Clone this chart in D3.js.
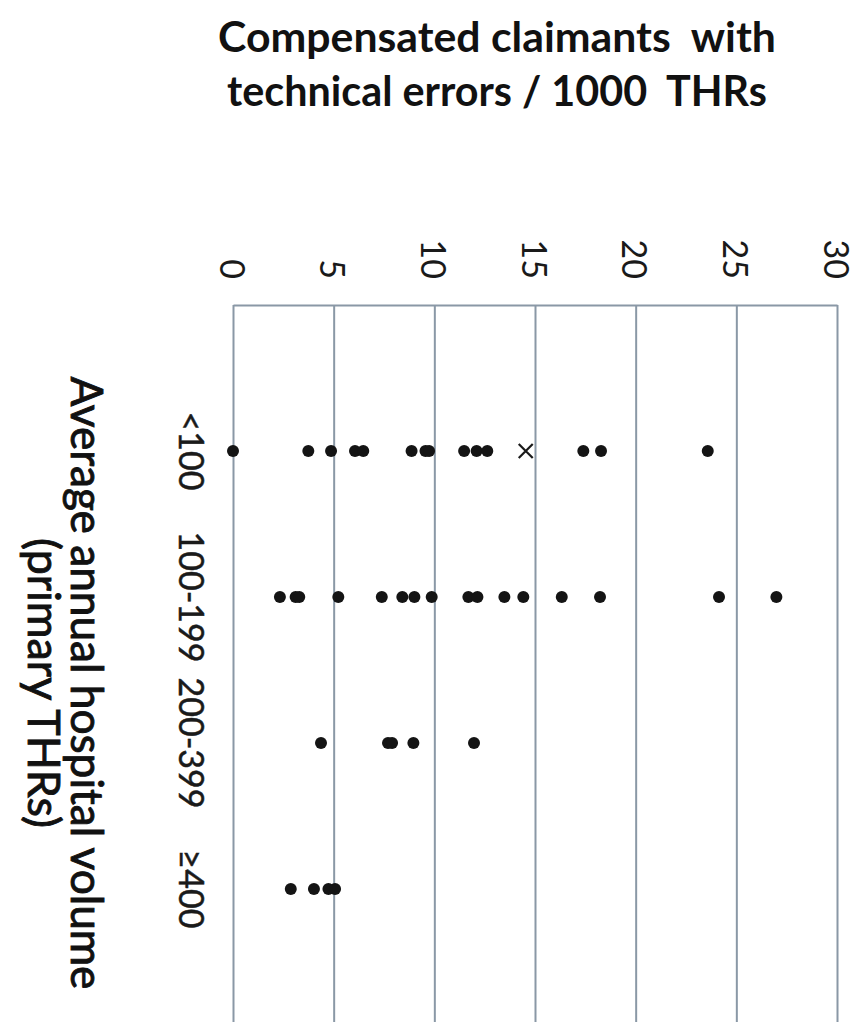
<!DOCTYPE html>
<html><head><meta charset="utf-8">
<script src="https://cdn.jsdelivr.net/npm/d3@7"></script>
<style>body{margin:0;background:#fff}svg{display:block}</style>
</head><body><svg id="c" width="863" height="1022"></svg>
<script>
// ---- data ----
const categories = ["<100", "100-199", "200-399", "\u2265400"];
const valuesLt100 = [0, 3.74, 4.87, 6.06, 6.47, 8.87, 9.56, 9.74, 11.48, 12.1, 12.63, 17.4, 18.28, 23.58];
const values100to199 = [2.33, 3.11, 3.29, 5.23, 7.39, 8.41, 9.01, 9.87, 11.69, 12.14, 13.48, 14.42, 16.33, 18.23, 24.14, 26.99];
const values200to399 = [4.37, 7.7, 7.9, 8.96, 11.97];
const values400plus = [2.87, 4.02, 4.74, 5.07];
const crossMarkerCategory = ["<100"];
const crossMarkerValue = [14.54];
const valueTicks = [0, 5, 10, 15, 20, 25, 30];
const titleLines = ["Compensated claimants  with", "technical errors / 1000  THRs"];
const axisTitleLines = ["Average annual hospital volume", "(primary THRs)"];

const seriesByCategory = [valuesLt100, values100to199, values200to399, values400plus];

const svg = d3.select("#c");
const v = d3.scaleLinear().domain([0, 30]).range([233, 837]);
const c = d3.scaleLinear().domain([0, categories.length + 1]).range([305, 1035]);
const catPos = name => c(categories.indexOf(name) + 1);

const gridColor = "#8a98a6";

// gridlines + top axis line
const ax = svg.append("g").attr("transform", `translate(0,${c(0)})`)
  .call(d3.axisTop(v).tickValues(valueTicks).tickSize(-(c(5) - c(0))).tickSizeOuter(0).tickFormat(""));
ax.selectAll("line").attr("stroke", gridColor).attr("stroke-width", 2);
ax.select(".domain").attr("stroke", gridColor).attr("stroke-width", 2);

// helper to fit text length
function fit(sel, target) {
  sel.each(function () {
    const len = this.getComputedTextLength();
    const fs = parseFloat(d3.select(this).attr("font-size"));
    d3.select(this).attr("font-size", fs * target / len);
  });
}

// value tick labels (rotated)
svg.append("g").selectAll("text").data(valueTicks).join("text")
  .attr("transform", d => `translate(${v(d)},279) rotate(90)`)
  .attr("text-anchor", "end")
  .attr("dominant-baseline", "central")
  .attr("font-family", "Lato, 'Open Sans', sans-serif")
  .attr("font-size", 34)
  .attr("fill", "#1a1a1a")
  .text(d => d);

// category labels (rotated)
svg.append("g").selectAll("text").data(categories).join("text")
  .attr("transform", d => `translate(192,${catPos(d)}) rotate(90)`)
  .attr("text-anchor", "middle")
  .attr("dominant-baseline", "central")
  .attr("font-family", "Lato, 'Open Sans', sans-serif")
  .attr("font-size", 34)
  .attr("fill", "#1a1a1a")
  .attr("stroke", "#1a1a1a").attr("stroke-width", 0.5)
  .text(d => d);

// points
const pts = [];
seriesByCategory.forEach((arr, i) => arr.forEach(val => pts.push({ cat: categories[i], val })));
svg.append("g").selectAll("circle").data(pts).join("circle")
  .attr("cx", d => v(d.val))
  .attr("cy", d => catPos(d.cat))
  .attr("r", 6)
  .attr("fill", "#141414");

// cross marker
const s = 7;
const cross = svg.append("g");
crossMarkerValue.forEach((val, i) => {
  const x = v(val), y = catPos(crossMarkerCategory[i]);
  cross.append("path")
    .attr("d", `M${x - s},${y - s}L${x + s},${y + s}M${x - s},${y + s}L${x + s},${y - s}`)
    .attr("stroke", "#1a1a1a").attr("stroke-width", 2.2).attr("fill", "none");
});

// title
const t = svg.append("g").selectAll("text").data(titleLines).join("text")
  .attr("x", 497)
  .attr("y", (d, i) => i === 0 ? 52 : 106)
  .attr("text-anchor", "middle")
  .attr("font-family", "Lato, 'Open Sans', sans-serif")
  .attr("font-weight", "bold")
  .attr("font-size", 38)
  .attr("fill", "#111")
  .attr("xml:space", "preserve")
  .style("white-space", "pre")
  .text(d => d);
t.each(function (d, i) { fit(d3.select(this), i === 0 ? 558 : 540); });

// axis title (rotated)
const at = svg.append("g").selectAll("text").data(axisTitleLines).join("text")
  .attr("transform", (d, i) => `translate(${i === 0 ? 71 : 28},683) rotate(90)`)
  .attr("text-anchor", "middle")
  .attr("font-family", "Lato, 'Open Sans', sans-serif")
  .attr("font-size", 44)
  .attr("fill", "#111")
  .attr("stroke", "#111").attr("stroke-width", 0.9)
  .text(d => d);
at.each(function (d, i) { fit(d3.select(this), i === 0 ? 613 : 290); });
</script></body></html>
